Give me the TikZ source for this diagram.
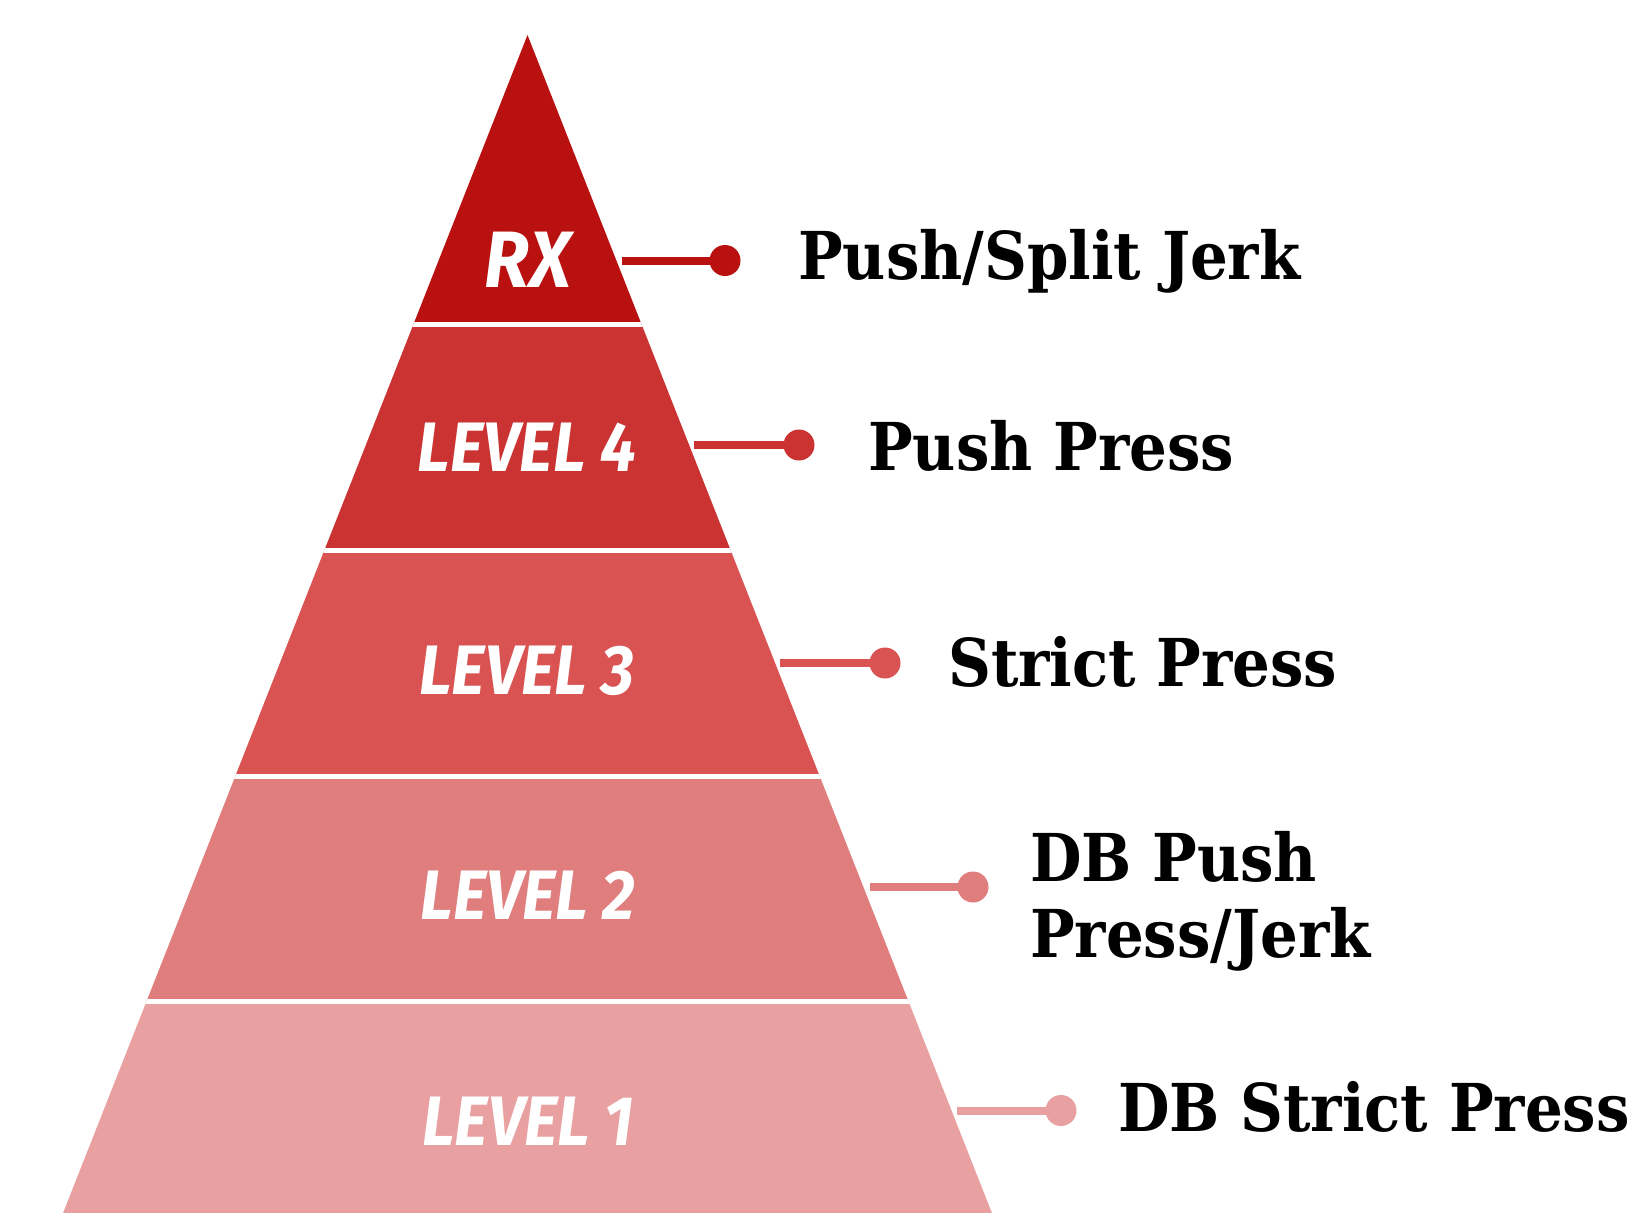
\documentclass[tikz,border=0pt]{standalone}
\usepackage{fontspec}
\newfontfamily\slab[FakeStretch=0.9]{DejaVu Serif}
\newfontfamily\brush[FakeStretch=0.92]{Fira Sans}
\definecolor{bandA}{RGB}{185,16,16}
\definecolor{bandB}{RGB}{203,50,50}
\definecolor{bandC}{RGB}{217,83,83}
\definecolor{bandD}{RGB}{224,125,125}
\definecolor{bandE}{RGB}{233,160,160}
\tikzset{
  lvl/.style={text=white, font=\brush\bfseries\itshape\fontsize{70}{70}\selectfont, inner sep=0pt},
  item/.style={anchor=base west, font=\slab\bfseries\fontsize{66}{76}\selectfont, inner sep=0pt, align=left},
  dot/.style={circle, fill=#1, minimum size=31pt, inner sep=0pt},
  link/.style={draw=#1, line width=8pt}
}
\begin{document}
\begin{tikzpicture}[x=1pt, y=-1pt]
\useasboundingbox (0,0) rectangle (1631,1213);
% pyramid bands
\begin{scope}
  \clip (527.5,35) -- (994.7,1220) -- (60.3,1220) -- cycle;
  \fill[bandA] (0,0) rectangle (1631,324.5);
  \fill[bandB] (0,324.5) rectangle (1631,550);
  \fill[bandC] (0,550) rectangle (1631,776);
  \fill[bandD] (0,776) rectangle (1631,1001);
  \fill[bandE] (0,1001) rectangle (1631,1220);
  \foreach \y in {324.5,550,776,1001} \draw[white, line width=5pt] (0,\y) -- (1631,\y);
\end{scope}
% band labels
\node[lvl, font=\brush\bfseries\itshape\fontsize{80}{80}\selectfont] (rx) at (528,260) {RX};
\node[lvl] (l4) at (527,447) {LEVEL 4};
\node[lvl] (l3) at (527,671) {LEVEL 3};
\node[lvl] (l2) at (528,895) {LEVEL 2};
\node[lvl] (l1) at (528,1121) {LEVEL 1};
% connectors
\coordinate (sA) at (621.5,260.5);
\coordinate (sB) at (694,445);
\coordinate (sC) at (780,663);
\coordinate (sD) at (870,887);
\coordinate (sE) at (957,1110.5);
\node[dot=bandA] (dA) at (725,260.5) {};
\node[dot=bandB] (dB) at (799,445) {};
\node[dot=bandC] (dC) at (885,663) {};
\node[dot=bandD] (dD) at (973,887) {};
\node[dot=bandE] (dE) at (1061,1110.5) {};
\draw[link=bandA] (sA) -- (dA.center);
\draw[link=bandB] (sB) -- (dB.center);
\draw[link=bandC] (sC) -- (dC.center);
\draw[link=bandD] (sD) -- (dD.center);
\draw[link=bandE] (sE) -- (dE.center);
% exercise names
\node[item] (tA) at (798,279) {Push/Split Jerk};
\node[item] (tB) at (868,470) {Push Press};
\node[item] (tC) at (948,686.5) {Strict Press};
\node[item] (tD) at (1030,957) {DB Push\\Press/Jerk};
\node[item] (tE) at (1118,1131) {DB Strict Press};
\end{tikzpicture}
\end{document}
